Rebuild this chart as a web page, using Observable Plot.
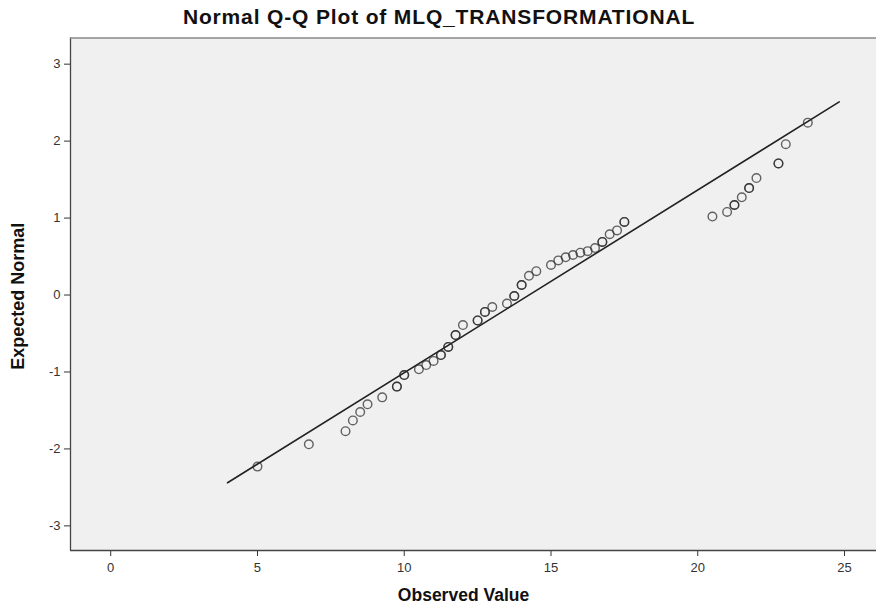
<!DOCTYPE html>
<html>
<head>
<meta charset="utf-8">
<script src="https://cdn.jsdelivr.net/npm/d3@7"></script>
<script src="https://cdn.jsdelivr.net/npm/@observablehq/plot@0.6"></script>
<style>
  body { margin: 0; background: #ffffff; font-family: "Liberation Sans", Arial, sans-serif; }
  #title { height: 37px; line-height: 34px; text-align: center; font-weight: bold; font-size: 21px; letter-spacing: 0.85px; color: #111; padding-left: 2px; }
  #chart svg { display: block; }
</style>
</head>
<body>
<div id="title">Normal Q-Q Plot of MLQ_TRANSFORMATIONAL</div>
<div id="chart"></div>
<script>
// Observed values
const observed = [5, 6.75, 8, 8.25, 8.5, 8.75, 9.25, 9.75, 10, 10.5, 10.75, 11, 11.25, 11.5, 11.75, 12,
  12.5, 12.75, 13, 13.5, 13.75, 14, 14.25, 14.5, 15, 15.25, 15.5, 15.75, 16, 16.25, 16.5, 16.75,
  17, 17.25, 17.5, 20.5, 21, 21.25, 21.5, 21.75, 22, 22.75, 23, 23.75];
// Expected normal values
const expected = [-2.23, -1.94, -1.77, -1.63, -1.52, -1.42, -1.33, -1.19, -1.04, -0.965, -0.91, -0.857, -0.78, -0.675, -0.52, -0.39,
  -0.33, -0.22, -0.156, -0.11, -0.013, 0.13, 0.25, 0.31, 0.39, 0.45, 0.49, 0.52, 0.55, 0.57, 0.61, 0.69,
  0.79, 0.84, 0.95, 1.02, 1.08, 1.17, 1.27, 1.39, 1.52, 1.71, 1.96, 2.24];
// Number of cases sharing each value (darker circles)
const counts = [1, 1, 1, 1, 1, 1, 1, 2, 2, 1, 1, 1, 2, 2, 2, 1,
  2, 2, 1, 1, 2, 2, 1, 1, 1, 1, 1, 1, 1, 1, 1, 2,
  1, 1, 2, 1, 1, 2, 1, 2, 1, 2, 1, 1];
// Reference line end points
const lineX = [3.98, 24.82];
const lineY = [-2.44, 2.51];
const xTicks = [0, 5, 10, 15, 20, 25];
const yTicks = [-3, -2, -1, 0, 1, 2, 3];
const xLabel = "Observed Value";
const yLabel = "Expected Normal";

const points = observed.flatMap((x, i) => d3.range(counts[i]).map(() => ({x, y: expected[i]})));
const refLine = lineX.map((x, i) => ({x, y: lineY[i]}));
const fmt = d => String(d);

const chart = Plot.plot({
  width: 876,
  height: 570,
  marginTop: 0.5,
  marginBottom: 57,
  marginLeft: 70,
  marginRight: 0,
  style: { fontFamily: "'Liberation Sans', Arial, sans-serif", fontSize: "13px", color: "#333", background: "#ffffff" },
  x: { domain: [-1.37, 26.09] },
  y: { domain: [-3.32, 3.34] },
  marks: [
    Plot.frame({ fill: "#f0f0f0", stroke: "none" }),
    Plot.axisX({ ticks: xTicks, tickFormat: fmt, tickSize: 6, tickPadding: 6, stroke: "#333", label: null }),
    Plot.axisY({ ticks: yTicks, tickFormat: fmt, tickSize: 6, tickPadding: 4, stroke: "#333", label: null }),
    Plot.text([xLabel], { frameAnchor: "bottom", dy: 50, dx: -10, fontSize: 17.5, fontWeight: "bold", fill: "#111" }),
    Plot.text([yLabel], { frameAnchor: "left", textAnchor: "middle", rotate: -90, dx: -52, dy: 2, fontSize: 18, fontWeight: "bold", fill: "#111" }),
    Plot.line(refLine, { x: "x", y: "y", stroke: "#222", strokeWidth: 1.6 }),
    Plot.dot(points, { x: "x", y: "y", r: 4.3, stroke: "#2a2a2a", strokeOpacity: 0.72, strokeWidth: 1.4, fill: "none" }),
    Plot.ruleX([-1.37], { stroke: "#444", strokeWidth: 1.3 }),
    Plot.ruleY([-3.32], { stroke: "#444", strokeWidth: 1.3 }),
    Plot.ruleY([3.34], { stroke: "#888", strokeWidth: 1.5 })
  ]
});
document.getElementById("chart").appendChild(chart);
</script>
</body>
</html>
